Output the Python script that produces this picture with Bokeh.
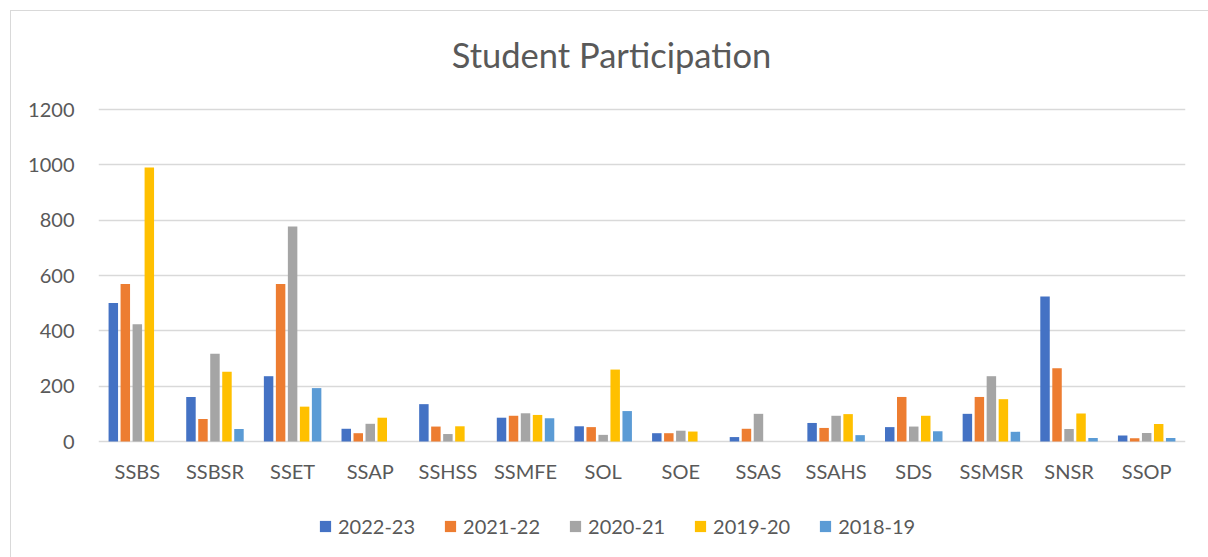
from bokeh.plotting import figure
from bokeh.models import ColumnDataSource, FixedTicker, Legend, LegendItem
from bokeh.core.properties import value
from bokeh.transform import dodge
from bokeh.embed import file_html
from bokeh.resources import INLINE

categories = ["SSBS", "SSBSR", "SSET", "SSAP", "SSHSS", "SSMFE", "SOL", "SOE",
              "SSAS", "SSAHS", "SDS", "SSMSR", "SNSR", "SSOP"]
series_names = ["2022-23", "2021-22", "2020-21", "2019-20", "2018-19"]
v2022_23 = [501, 161, 236, 46, 135, 86, 55, 30, 16, 67, 52, 100, 524, 22]
v2021_22 = [569, 81, 569, 30, 54, 93, 52, 30, 46, 49, 161, 161, 265, 12]
v2020_21 = [424, 317, 777, 64, 27, 102, 24, 39, 100, 93, 54, 236, 45, 31]
v2019_20 = [990, 252, 126, 86, 55, 96, 260, 36, 0, 99, 93, 153, 101, 63]
v2018_19 = [0, 45, 193, 0, 0, 84, 110, 0, 0, 23, 37, 35, 13, 13]
y_ticks = [0, 200, 400, 600, 800, 1000, 1200]
title_text = "Student Participation"

colors = ["#4472C4", "#ED7D31", "#A5A5A5", "#FFC000", "#5B9BD5"]
FONT = "Lato"
TXT = "#595959"

# layout: value axis 0..1200 spans 332 px (page y 109..441); the frame
# extends to the page top (109 px above 1200) and 116 px below 0
units_per_px = 1200 / 332.0
y_bottom = -116 * units_per_px
y_top = 1200 + 109 * units_per_px
label_y = -29.5 * units_per_px
title_y = 1200 + (109 - 53.5) * units_per_px
title_x = (611 - 98) / (1087 / len(categories))

src = ColumnDataSource(dict(cat=categories, s0=v2022_23, s1=v2021_22, s2=v2020_21,
                            s3=v2019_20, s4=v2018_19))

p = figure(x_range=categories, y_range=(y_bottom, y_top), width=1208, height=557,
           output_backend="svg", toolbar_location=None,
           min_border_left=98, min_border_right=23, min_border_top=0,
           min_border_bottom=0)
p.outline_line_color = None
p.border_fill_alpha = 0
p.background_fill_alpha = 0
p.styles = {
    "background": "linear-gradient(#d9d9d9,#d9d9d9) 10px 10px / 1px 100% no-repeat, "
                  "linear-gradient(#d9d9d9,#d9d9d9) 10px 10px / 100% 1px no-repeat, #ffffff"
}

pitch = 0.1546
renderers = []
for i, key in enumerate(["s0", "s1", "s2", "s3", "s4"]):
    r = p.vbar(x=dodge("cat", (i - 2) * pitch, range=p.x_range), top=key, width=0.122,
               source=src, fill_color=colors[i], line_color=None)
    renderers.append(r)

# category labels
p.text(x="cat", y=label_y, text="cat", source=src, text_font=value(FONT),
       text_font_size="20px", text_color=TXT, text_align="center",
       text_baseline="middle")

# chart title
p.text(x=[title_x], y=[title_y], text=[title_text], text_font=value(FONT),
       text_font_size="34.5px", text_color=TXT, text_align="center",
       text_baseline="middle")

p.xaxis.visible = False
p.xgrid.grid_line_color = None
p.ygrid.grid_line_color = "#d9d9d9"
p.ygrid.grid_line_width = 1.5
p.yaxis.ticker = FixedTicker(ticks=y_ticks)
p.yaxis.axis_line_color = None
p.yaxis.major_tick_line_color = None
p.yaxis.minor_tick_line_color = None
p.yaxis.major_label_text_font = FONT
p.yaxis.major_label_text_font_size = "20px"
p.yaxis.major_label_text_color = TXT
p.yaxis.major_label_standoff = 18

items = [LegendItem(label=n, renderers=[r]) for n, r in zip(series_names, renderers)]
legend = Legend(items=items, orientation="horizontal", location=(220, 19),
                padding=0, margin=0,
                glyph_width=14, glyph_height=14, label_standoff=6, spacing=28,
                label_text_font=FONT, label_text_font_size="20px", label_text_color=TXT,
                border_line_color=None, background_fill_alpha=0)
p.add_layout(legend)

open("out.html", "w").write(file_html(p, INLINE))
